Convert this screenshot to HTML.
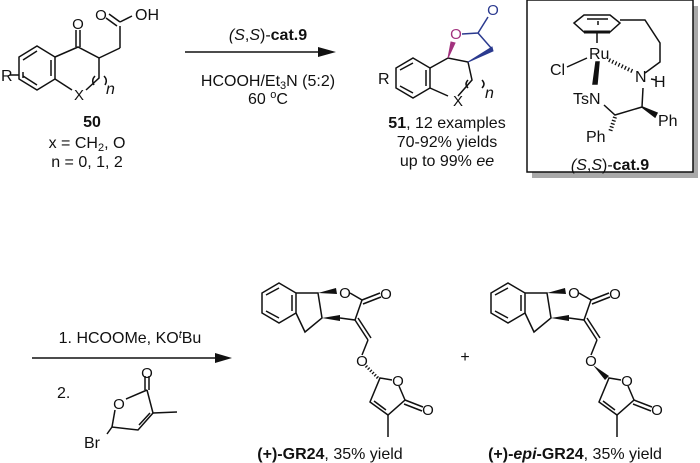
<!DOCTYPE html>
<html><head><style>
html,body{margin:0;padding:0;background:#fff;}
svg{display:block;}
text{font-family:"Liberation Sans",sans-serif;font-size:16px;fill:#111;}
.a{font-size:15px;text-anchor:middle;}
.m{text-anchor:middle;}
.b{font-weight:bold;}
</style></head><body>
<svg width="700" height="463" viewBox="0 0 700 463" xmlns="http://www.w3.org/2000/svg">
<g stroke="#111" stroke-width="1.5" fill="none">
<!-- compound 50 -->
<polygon points="37,46 55,57 55,79 37,90 19,79 19,57"/>
<line x1="23" y1="60" x2="37" y2="51"/><line x1="51" y1="60" x2="51" y2="76"/><line x1="23" y1="76" x2="37" y2="85"/>
<polyline points="55,57 78,47 99,58 99,78 86,90"/>
<line x1="55" y1="79" x2="72" y2="90"/>
<line x1="76" y1="47" x2="76" y2="30"/><line x1="80" y1="47" x2="80" y2="30"/>
<line x1="99" y1="58" x2="120" y2="48"/><line x1="120" y1="48" x2="120" y2="26"/>
<line x1="117" y1="26" x2="106" y2="18"/><line x1="120" y1="22" x2="109" y2="14"/>
<line x1="120" y1="22" x2="132" y2="16"/>
<line x1="10" y1="75" x2="19" y2="75"/><line x1="23" y1="72" x2="23" y2="78"/>
<path d="M95,76 q-4,4 -1,9"/><path d="M104,76 q4,4 1,9"/>
<!-- arrow 1 -->
<line x1="185" y1="52" x2="320" y2="52"/>
<!-- compound 51 -->
<polygon points="413,58 430,68 430,88 413,98 396,88 396,68"/>
<line x1="400" y1="70" x2="413" y2="63"/><line x1="426" y1="70" x2="426" y2="86"/><line x1="400" y1="86" x2="413" y2="93"/>
<polyline points="430,68 448,58 468,62 472,80 458,96"/>
<line x1="430" y1="88" x2="448" y2="96"/>
<polygon points="448,58 451,42 455,43" fill="#a2327e" stroke="#a2327e" stroke-width="1"/>
<polyline points="462,34 478,33 488,17" stroke="#2b3a8f"/>
<line x1="478" y1="33" x2="492" y2="49" stroke="#2b3a8f"/>
<polygon points="468,62 492,47 493,51" fill="#2b3a8f" stroke="#2b3a8f" stroke-width="1"/>
<path d="M468,80 q-4,4 0,8"/><path d="M482,80 q4,4 0,8"/>
<!-- box -->
<rect x="532" y="6" width="166" height="172" fill="#a9a9a9" stroke="none"/>
<rect x="527" y="0" width="166" height="172" fill="#fff"/>
<polygon points="574,23 584,15 610,15 620,23 610,32 584,32"/>
<line x1="584" y1="32" x2="610" y2="32" stroke-width="3"/>
<line x1="587" y1="19" x2="608" y2="19"/>
<line x1="598" y1="21" x2="598" y2="25"/>
<polyline points="620,20 645,20 660,43 660,62 645,73"/>
<line x1="597" y1="33" x2="597" y2="43"/>
<line x1="567" y1="67" x2="587" y2="58"/>
<line x1="609" y1="60" x2="634" y2="72" stroke-width="4" stroke-dasharray="1.3,2.2"/>
<polygon points="596,62 599,62 597,84 593,84" fill="#111"/>
<polyline points="604,105 615,115 642,107 643,88"/>
<line x1="651" y1="79" x2="656" y2="80"/>
<polygon points="642,107 657,113 655,117" fill="#111"/>
<line x1="615" y1="117" x2="610" y2="132" stroke-width="4" stroke-dasharray="1.3,2"/>
<!-- arrow 2 -->
<line x1="32" y1="358" x2="215" y2="358"/>
<!-- bromobutenolide -->
<line x1="147" y1="390" x2="126" y2="399"/>
<line x1="115" y1="410" x2="112" y2="427"/>
<polyline points="107,434 112,427 138,430 153,413 147,390"/>
<line x1="139" y1="425" x2="150" y2="413"/>
<line x1="153" y1="413" x2="177" y2="412"/>
<line x1="145" y1="390" x2="145" y2="376"/><line x1="149" y1="390" x2="149" y2="376"/>
</g>
<polygon points="215,353 232,358 215,363" fill="#111"/>
<polygon points="318,47 336,52 318,57" fill="#111"/>
<!-- GR24 molecules -->
<g stroke="#111" stroke-width="1.5" fill="none">
<polygon points="279,283 296,293 296,313 279,323 262,313 262,293"/>
<line x1="266" y1="295" x2="279" y2="288"/><line x1="292" y1="295" x2="292" y2="311"/><line x1="266" y1="311" x2="279" y2="318"/>
<polyline points="296,293 318,293 322,318 305,332 296,313"/>
<polyline points="350,293 362,300 355,320 340,318"/>
<line x1="362" y1="300" x2="380" y2="293"/><line x1="363" y1="304" x2="381" y2="297"/>
<line x1="355" y1="320" x2="368" y2="340"/><line x1="358" y1="318" x2="371" y2="338"/>
<line x1="368" y1="340" x2="362" y2="355"/>
<polyline points="392,380 380,378 370,402 388,415 405,400 399,386"/>
<line x1="405" y1="400" x2="423" y2="407"/><line x1="404" y1="404" x2="422" y2="411"/>
<line x1="386" y1="410" x2="374" y2="401"/>
<line x1="388" y1="415" x2="388" y2="437"/>
</g>
<g transform="translate(229,0)" stroke="#111" stroke-width="1.5" fill="none">
<polygon points="279,283 296,293 296,313 279,323 262,313 262,293"/>
<line x1="266" y1="295" x2="279" y2="288"/><line x1="292" y1="295" x2="292" y2="311"/><line x1="266" y1="311" x2="279" y2="318"/>
<polyline points="296,293 318,293 322,318 305,332 296,313"/>
<polyline points="350,293 362,300 355,320 340,318"/>
<line x1="362" y1="300" x2="380" y2="293"/><line x1="363" y1="304" x2="381" y2="297"/>
<line x1="355" y1="320" x2="368" y2="340"/><line x1="358" y1="318" x2="371" y2="338"/>
<line x1="368" y1="340" x2="362" y2="355"/>
<polyline points="392,380 380,378 370,402 388,415 405,400 399,386"/>
<line x1="405" y1="400" x2="423" y2="407"/><line x1="404" y1="404" x2="422" y2="411"/>
<line x1="386" y1="410" x2="374" y2="401"/>
<line x1="388" y1="415" x2="388" y2="437"/>
</g>
<g fill="#111">
<polygon points="318,293 336,288 337,294"/><polygon points="322,318 340,315 340,321"/>
<polygon points="547,293 565,288 566,294"/><polygon points="551,318 569,315 569,321"/>
<polygon points="593,365 609,376 605,380"/>
</g>
<line x1="366" y1="366" x2="378" y2="378" stroke="#111" stroke-width="3" stroke-dasharray="1.3,1.8"/>
<!-- text -->
<text x="1" y="81">R</text>
<text class="a" x="79" y="100">X</text><text x="106" y="94" font-size="11" font-style="italic">n</text>
<text class="a" x="78" y="29">O</text><text class="a" x="101" y="20">O</text><text x="135" y="20" font-size="15">OH</text>
<text x="92" y="127" class="b m">50</text>
<text x="87" y="148" class="m">x = CH<tspan font-size="11" dy="3">2</tspan><tspan dy="-3">, O</tspan></text>
<text x="87" y="167" class="m">n = 0, 1, 2</text>
<text x="268" y="40" class="m"><tspan font-style="italic">(S</tspan>,<tspan font-style="italic">S</tspan>)-<tspan class="b">cat.9</tspan></text>
<text x="268" y="86" class="m">HCOOH/Et<tspan font-size="11" dy="3">3</tspan><tspan dy="-3">N (5:2)</tspan></text>
<text x="268" y="104" class="m">60 <tspan font-size="11" dy="-6">o</tspan><tspan dy="6">C</tspan></text>
<text x="378" y="84" font-size="15">R</text>
<text class="a" x="458" y="106">X</text><text x="485" y="98" font-size="11" font-style="italic">n</text>
<text class="a" x="456" y="39" style="fill:#a2327e">O</text>
<text class="a" x="493" y="15" style="fill:#2b3a8f">O</text>
<text x="447" y="128" class="m"><tspan class="b">51</tspan>, 12 examples</text>
<text x="447" y="147" class="m">70-92% yields</text>
<text x="447" y="166" class="m">up to 99% <tspan font-style="italic">ee</tspan></text>
<text x="589" y="59" font-size="15">Ru</text><text x="550" y="75" font-size="15">Cl</text>
<text x="635" y="82" font-size="15">N</text><text x="654" y="87" font-size="15">H</text>
<text x="573" y="104" font-size="15">TsN</text><text x="658" y="126" font-size="15">Ph</text><text x="586" y="142" font-size="15">Ph</text>
<text x="610" y="170" class="m"><tspan font-style="italic">(S</tspan>,<tspan font-style="italic">S</tspan>)-<tspan class="b">cat.9</tspan></text>
<text x="130" y="343" class="m">1. HCOOMe, KO<tspan font-size="11" dy="-5" font-style="italic">t</tspan><tspan dy="5">Bu</tspan></text>
<text x="57" y="398">2.</text>
<text class="a" x="147" y="378">O</text><text class="a" x="119" y="409">O</text><text x="84" y="448" font-size="15">Br</text>
<text class="a" x="345" y="298">O</text><text class="a" x="386" y="299">O</text><text class="a" x="362" y="366">O</text><text class="a" x="398" y="386">O</text><text class="a" x="428" y="415">O</text>
<text class="a" x="574" y="298">O</text><text class="a" x="615" y="299">O</text><text class="a" x="591" y="366">O</text><text class="a" x="627" y="386">O</text><text class="a" x="657" y="415">O</text>
<text x="465" y="362" class="m">+</text>
<text x="330" y="459" class="m"><tspan class="b">(+)-GR24</tspan>, 35% yield</text>
<text x="575" y="459" class="m"><tspan class="b">(+)-<tspan font-style="italic">epi</tspan>-GR24</tspan>, 35% yield</text>
</svg>
</body></html>
